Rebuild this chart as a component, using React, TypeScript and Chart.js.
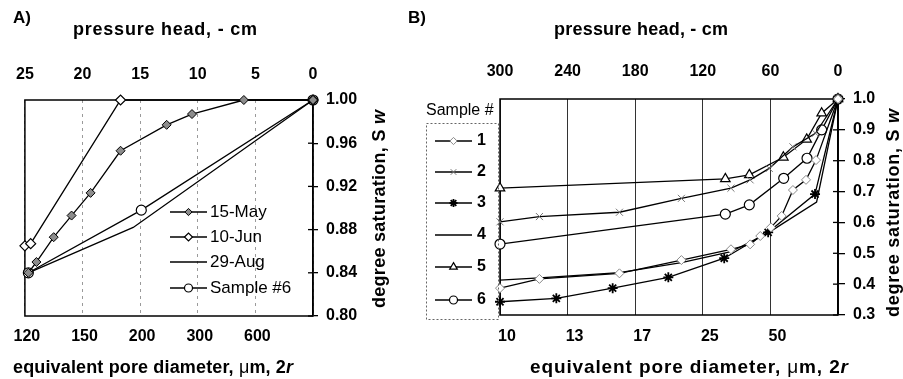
import React, { useEffect, useRef } from 'react';
import { Chart, registerables } from 'chart.js';
import { drawPoint } from 'chart.js/helpers';

Chart.register(...registerables);

const FAM = "'Liberation Sans', Arial, Helvetica, sans-serif";

// ---------------- Panel A data (pressure head, cm -> degree of saturation) ----------------
const headTicksA = [25, 20, 15, 10, 5, 0];
const poreLabelsA = ['120', '150', '200', '300', '600', ''];
const may15Head = [24.7, 24.0, 22.5, 20.95, 19.3, 16.7, 12.7, 10.5, 6.0, 0];
const may15Sat = [0.84, 0.85, 0.873, 0.893, 0.914, 0.953, 0.977, 0.987, 1.0, 1.0];
const jun10Head = [25, 24.5, 16.7, 0];
const jun10Sat = [0.865, 0.867, 1.0, 1.0];
const aug29Head = [24.7, 15.6, 0];
const aug29Sat = [0.84, 0.882, 1.0];
const sample6AHead = [24.7, 14.9, 0];
const sample6ASat = [0.84, 0.898, 1.0];
const legendA = ['15-May', '10-Jun', '29-Aug', 'Sample #6'];

// ---------------- Panel B data ----------------
const headTicksB = [300, 240, 180, 120, 60, 0];
const poreLabelsB = ['10', '13', '17', '25', '50', ''];
const s1Head = [300, 265, 194, 139, 95, 78, 69, 59.5, 50, 40, 28.4, 19.5, 0];
const s1Sat = [0.387, 0.417, 0.435, 0.478, 0.513, 0.529, 0.556, 0.584, 0.621, 0.705, 0.738, 0.802, 1.0];
const s2Head = [300, 265, 194, 139, 95, 78, 61, 40, 20, 0];
const s2Sat = [0.602, 0.619, 0.633, 0.678, 0.711, 0.738, 0.775, 0.845, 0.889, 1.0];
const s3Head = [300, 250, 200, 150.6, 101, 62, 20.4, 0];
const s3Sat = [0.343, 0.354, 0.387, 0.422, 0.484, 0.568, 0.692, 1.0];
const s4Head = [300, 265, 194, 139, 95, 62, 19, 0];
const s4Sat = [0.413, 0.42, 0.437, 0.47, 0.505, 0.566, 0.666, 1.0];
const s5Head = [300, 100, 78.7, 48.5, 27.8, 14.5, 0];
const s5Sat = [0.711, 0.741, 0.754, 0.811, 0.869, 0.954, 1.0];
const s6Head = [300, 100, 78.7, 48.2, 27.5, 14.5, 0];
const s6Sat = [0.53, 0.627, 0.657, 0.743, 0.808, 0.9, 1.0];
const legendB = ['1', '2', '3', '4', '5', '6'];

const bold = (s: number) => `bold ${s}px ${FAM}`;
const reg = (s: number) => `${s}px ${FAM}`;
const boldIt = (s: number) => `italic bold ${s}px ${FAM}`;

const pts = (h: number[], s: number[]) => h.map((x, i) => ({ x, y: s[i] }));

const labelFor = (v: any, ticks: number[], labels: string[]) => {
  const n = Number(v);
  for (let i = 0; i < ticks.length; i++) if (Math.abs(ticks[i] - n) < 1e-6) return labels[i];
  return '';
};

type Part = { t: string; f: string };

function drawRich(ctx: CanvasRenderingContext2D, parts: Part[], cx: number, cy: number, target: number, rot = 0, align: 'center' | 'left' = 'center') {
  ctx.save();
  ctx.translate(cx, cy);
  if (rot) ctx.rotate(rot);
  ctx.textBaseline = 'middle';
  ctx.textAlign = 'left';
  ctx.fillStyle = '#000';
  const c = ctx as any;
  c.letterSpacing = '0px';
  let nat = 0;
  let n = 0;
  const widths = parts.map((p) => {
    ctx.font = p.f;
    const w = ctx.measureText(p.t).width;
    nat += w;
    n += p.t.length;
    return w;
  });
  const ls = target > 0 && n > 1 ? (target - nat) / (n - 1) : 0;
  let x = align === 'center' ? -(nat + ls * (n - 1)) / 2 : 0;
  parts.forEach((p, i) => {
    ctx.font = p.f;
    c.letterSpacing = `${ls}px`;
    ctx.fillText(p.t, x, 0);
    x += widths[i] + ls * p.t.length;
  });
  c.letterSpacing = '0px';
  ctx.restore();
}

function drawLegendEntry(ctx: CanvasRenderingContext2D, ds: any, x1: number, x2: number, y: number, scale: number) {
  ctx.save();
  ctx.setLineDash([]);
  ctx.strokeStyle = ds.borderColor;
  ctx.lineWidth = ds.borderWidth;
  ctx.beginPath();
  ctx.moveTo(x1, y);
  ctx.lineTo(x2, y);
  ctx.stroke();
  if (ds.pointRadius > 0) {
    ctx.fillStyle = ds.pointBackgroundColor;
    ctx.strokeStyle = ds.pointBorderColor;
    ctx.lineWidth = ds.pointBorderWidth;
    drawPoint(ctx, { pointStyle: ds.pointStyle, radius: ds.pointRadius * scale, rotation: 0, borderWidth: ds.pointBorderWidth } as any, (x1 + x2) / 2, y);
  }
  ctx.restore();
}

const framePlugin = (inner: number) => ({
  id: 'frame',
  beforeDatasetsDraw(chart: any) {
    const { ctx, chartArea: a } = chart;
    ctx.save();
    ctx.setLineDash([]);
    ctx.strokeStyle = '#000';
    ctx.lineWidth = 1.5;
    ctx.strokeRect(a.left, a.top, a.right - a.left, a.bottom - a.top);
    const ys = chart.scales.y;
    ctx.lineWidth = 1.3;
    ys.ticks.forEach((_t: any, i: number) => {
      const p = ys.getPixelForTick(i);
      ctx.beginPath();
      ctx.moveTo(a.right - inner, p);
      ctx.lineTo(a.right, p);
      ctx.stroke();
    });
    ctx.restore();
  },
});

const tickFont = { family: FAM, size: 16, weight: 'bold' as const };

function makeScales(opts: {
  max: number; step: number; ticks: number[]; labels: string[]; bottomH: number; topH: number; rightW: number;
  ymin: number; ymax: number; ystep: number; ydec: number; tickLen: number; gridColor: string; gridDash: number[];
  topPad: number; botPad: number; labelOffset: number;
}) {
  return {
    x: {
      type: 'linear', position: 'bottom', min: 0, max: opts.max, reverse: true,
      afterFit: (s: any) => { s.height = opts.bottomH; },
      ticks: {
        stepSize: opts.step, font: tickFont, color: '#000', padding: opts.botPad, labelOffset: opts.labelOffset,
        maxRotation: 0, autoSkip: false, callback: (v: any) => labelFor(v, opts.ticks, opts.labels),
      },
      grid: { display: true, drawOnChartArea: true, drawTicks: false, color: opts.gridColor, lineWidth: 1 },
      border: { display: false, dash: opts.gridDash },
    },
    xTop: {
      type: 'linear', position: 'top', min: 0, max: opts.max, reverse: true,
      afterFit: (s: any) => { s.height = opts.topH; },
      ticks: { stepSize: opts.step, font: tickFont, color: '#000', padding: opts.topPad, maxRotation: 0, autoSkip: false },
      grid: { display: false, drawTicks: false },
      border: { display: false },
    },
    y: {
      type: 'linear', position: 'right', min: opts.ymin, max: opts.ymax,
      afterFit: (s: any) => { s.width = opts.rightW; },
      ticks: { stepSize: opts.ystep, font: tickFont, color: '#000', padding: 8, callback: (v: any) => Number(v).toFixed(opts.ydec) },
      grid: { drawOnChartArea: false, drawTicks: true, tickLength: opts.tickLen, color: '#000', lineWidth: 1.3 },
      border: { display: true, color: '#000', width: 1.5 },
    },
  };
}

const line = (label: string, data: any[], extra: any) => ({
  label, data, borderColor: '#000', borderWidth: 1.3, tension: 0, fill: false, clip: false,
  pointStyle: 'circle', pointRadius: 0, pointBackgroundColor: '#fff', pointBorderColor: '#000', pointBorderWidth: 1.2,
  ...extra,
});

const titleA = (s: number): Part[] => [{ t: 'pressure head, - cm', f: bold(s) }];
const poreTitle = (s: number): Part[] => [
  { t: 'equivalent pore diameter, ', f: bold(s) },
  { t: 'μ', f: reg(s) },
  { t: 'm, 2', f: bold(s) },
  { t: 'r', f: boldIt(s) },
];
const satTitle = (s: number): Part[] => [
  { t: 'degree saturation, S ', f: bold(s) },
  { t: 'w', f: boldIt(s) },
];

function configA(): any {
  const datasets = [
    line(legendA[0], pts(may15Head, may15Sat), { pointStyle: 'rectRot', pointRadius: 4.5, pointBackgroundColor: '#8c8c8c', pointBorderWidth: 1 }),
    line(legendA[1], pts(jun10Head, jun10Sat), { pointStyle: 'rectRot', pointRadius: 5 }),
    line(legendA[2], pts(aug29Head, aug29Sat), {}),
    line(legendA[3], pts(sample6AHead, sample6ASat), { pointStyle: 'circle', pointRadius: 5 }),
  ];
  const textPlugin = {
    id: 'textA',
    afterDraw(chart: any) {
      const ctx = chart.ctx as CanvasRenderingContext2D;
      drawRich(ctx, [{ t: 'A)', f: bold(17) }], 13, 18, 0, 0, 'left');
      drawRich(ctx, titleA(18), 165, 30, 184);
      drawRich(ctx, poreTitle(18), 153, 368, 280);
      drawRich(ctx, satTitle(18), 380, 209, 198, -Math.PI / 2);
      const rows = [212, 237, 262, 288];
      chart.data.datasets.forEach((ds: any, i: number) => {
        drawLegendEntry(ctx, ds, 170, 207, rows[i], 0.8);
        drawRich(ctx, [{ t: ds.label, f: reg(17) }], 210, rows[i], 0, 0, 'left');
      });
    },
  };
  return {
    type: 'line',
    data: { datasets },
    options: {
      animation: false, responsive: false, maintainAspectRatio: false, events: [],
      layout: { padding: { left: 17, right: 0, top: 0, bottom: 0 } },
      plugins: { legend: { display: false }, tooltip: { enabled: false }, title: { display: false } },
      scales: makeScales({
        max: 25, step: 5, ticks: headTicksA, labels: poreLabelsA, bottomH: 63, topH: 100, rightW: 87,
        ymin: 0.8, ymax: 1.0, ystep: 0.04, ydec: 2, tickLen: 5, gridColor: '#9a9a9a', gridDash: [3, 4],
        topPad: 16, botPad: 11, labelOffset: 2,
      }),
    },
    plugins: [framePlugin(5), textPlugin],
  };
}

function configB(): any {
  const datasets = [
    line(legendB[0], pts(s1Head, s1Sat), { pointStyle: 'rectRot', pointRadius: 4.5, pointBorderColor: '#888', pointBorderWidth: 1 }),
    line(legendB[1], pts(s2Head, s2Sat), { pointStyle: 'crossRot', pointRadius: 5, pointBorderColor: '#777', pointBorderWidth: 1 }),
    line(legendB[2], pts(s3Head, s3Sat), { pointStyle: 'star', pointRadius: 5, pointBorderColor: '#000', pointBorderWidth: 1.8 }),
    line(legendB[3], pts(s4Head, s4Sat), {}),
    line(legendB[4], pts(s5Head, s5Sat), { pointStyle: 'triangle', pointRadius: 5.5 }),
    line(legendB[5], pts(s6Head, s6Sat), { pointStyle: 'circle', pointRadius: 5 }),
  ];
  const textPlugin = {
    id: 'textB',
    afterDraw(chart: any) {
      const ctx = chart.ctx as CanvasRenderingContext2D;
      drawRich(ctx, [{ t: 'B)', f: bold(17) }], 8, 18, 0, 0, 'left');
      drawRich(ctx, titleA(18), 241, 30, 174);
      drawRich(ctx, poreTitle(19), 289, 368, 318);
      drawRich(ctx, satTitle(18), 494, 213, 208, -Math.PI / 2);
      drawRich(ctx, [{ t: 'Sample #', f: reg(16) }], 26, 111, 0, 0, 'left');
      ctx.save();
      ctx.strokeStyle = '#666';
      ctx.lineWidth = 1;
      ctx.setLineDash([2, 2]);
      ctx.strokeRect(26.5, 123.5, 72, 196);
      ctx.restore();
      const rows = [141, 172, 203, 235, 267, 300];
      chart.data.datasets.forEach((ds: any, i: number) => {
        drawLegendEntry(ctx, ds, 35, 72, rows[i], 0.8);
        drawRich(ctx, [{ t: ds.label, f: bold(16) }], 77, rows[i], 0, 0, 'left');
      });
    },
  };
  return {
    type: 'line',
    data: { datasets },
    options: {
      animation: false, responsive: false, maintainAspectRatio: false, events: [],
      layout: { padding: { left: 100, right: 0, top: 0, bottom: 0 } },
      plugins: { legend: { display: false }, tooltip: { enabled: false }, title: { display: false } },
      scales: makeScales({
        max: 300, step: 60, ticks: headTicksB, labels: poreLabelsB, bottomH: 64, topH: 99, rightW: 65,
        ymin: 0.3, ymax: 1.0, ystep: 0.1, ydec: 1, tickLen: 7, gridColor: '#333', gridDash: [],
        topPad: 18, botPad: 12, labelOffset: 7,
      }),
    },
    plugins: [framePlugin(5), textPlugin],
  };
}

export default function App() {
  const refA = useRef<HTMLCanvasElement>(null);
  const refB = useRef<HTMLCanvasElement>(null);
  useEffect(() => {
    const a = new Chart(refA.current!, configA());
    const b = new Chart(refB.current!, configB());
    return () => {
      a.destroy();
      b.destroy();
    };
  }, []);
  return (
    <div style={{ position: 'fixed', left: 0, top: 0, width: 903, height: 379, background: '#fff' }}>
      <canvas ref={refA} width={400} height={379} style={{ position: 'absolute', left: 0, top: 0, width: 400, height: 379 }} />
      <canvas ref={refB} width={503} height={379} style={{ position: 'absolute', left: 400, top: 0, width: 503, height: 379 }} />
    </div>
  );
}
